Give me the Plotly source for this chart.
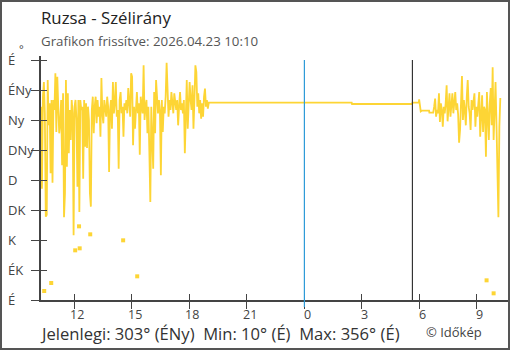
import pandas as pd
import plotly.graph_objects as go

# Wind direction (degrees), 3-minute samples from 2026-04-22 10:16
morning_start = "2026-04-22 10:16"
morning_dirs = [
    290, 167, 305, 327, 280, 125, 128, 330, 262, 295,
    190, 300, 176, 300, 285, 340, 252, 335, 290, 250,
    265, 300, 202, 310, 124, 160, 330, 200, 310, 220,
    285, 240, 300, 280, 97, 290, 300, 270, 170, 300,
    132, 300, 285, 290, 182, 300, 230, 295, 228, 290,
    270, 160, 140, 285, 305, 250, 290, 305, 265, 300,
    275, 290, 245, 333, 280, 265, 300, 290, 275, 305,
    290, 192, 285, 300, 257, 327, 280, 295, 327, 275,
    285, 197, 300, 312, 280, 290, 245, 295, 285, 300,
    280, 318, 290, 275, 340, 335, 232, 290, 257, 300,
    312, 280, 295, 218, 305, 290, 280, 352, 270, 290,
    300, 250, 290, 222, 147, 290, 227, 197, 312, 250,
    330, 290, 280, 300, 285, 187, 300, 252, 290, 280,
    305, 356, 290, 275, 300, 285, 312, 290, 280, 310,
    295, 285, 300, 262, 290, 312, 285, 295, 280, 300,
    220, 300, 330, 257, 290, 327, 300, 285, 322, 257,
    300, 352, 342, 290, 310, 280, 300, 272, 295, 275,
    305, 317, 290, 300, 287, 296,
]

# Calm overnight stretch: the vane barely moves
calm_times = [
    "2026-04-22 19:07", "2026-04-23 02:28", "2026-04-23 02:29",
    "2026-04-23 05:37", "2026-04-23 05:38", "2026-04-23 05:58",
    "2026-04-23 05:59", "2026-04-23 06:04", "2026-04-23 06:07",
    "2026-04-23 06:30", "2026-04-23 06:31", "2026-04-23 06:43",
]
calm_dirs = [296, 296, 294, 294, 296, 296, 301, 283, 284, 284, 281, 281]

# 3-minute samples from 2026-04-23 06:46
late_start = "2026-04-23 06:46"
late_dirs = [
    290, 302, 275, 285, 280, 310, 267, 295, 285, 260,
    290, 280, 295, 322, 268, 300, 310, 275, 290, 310,
    280, 300, 312, 285, 295, 278, 236, 255, 290, 336,
    270, 300, 285, 262, 305, 330, 290, 280, 255, 300,
    285, 295, 310, 260, 290, 275, 300, 312, 245, 290,
    307, 252, 290, 285, 215, 312, 270, 240, 295, 318,
    262, 349, 240, 290, 327, 262, 201, 124, 260, 303,
]

# Isolated readings (not joined to the line)
spot_times = [
    "2026-04-22 10:26", "2026-04-22 10:48", "2026-04-22 12:03",
    "2026-04-22 12:15", "2026-04-22 12:17", "2026-04-22 12:50",
    "2026-04-22 14:33", "2026-04-22 15:17", "2026-04-23 09:30",
    "2026-04-23 09:52",
]
spot_dirs = [13.5, 25.5, 74.5, 110.5, 77.5, 98.5, 89.5, 35.5, 29.5, 10]

compass_vals = [0, 45, 90, 135, 180, 225, 270, 315, 360]
compass_text = ["É", "ÉK", "K", "DK", "D", "DNy", "Ny", "ÉNy", "É"]

hour_ticks = [
    "2026-04-22 12:00", "2026-04-22 15:00", "2026-04-22 18:00",
    "2026-04-22 21:00", "2026-04-23 00:00", "2026-04-23 03:00",
    "2026-04-23 06:00", "2026-04-23 09:00",
]
hour_text = ["12", "15", "18", "21", "0", "3", "6", "9"]

midnight = "2026-04-23 00:00"
sunrise = "2026-04-23 05:38"
x_range = ["2026-04-22 10:16", "2026-04-23 10:37"]
y_range = [0, 366]

title = "Ruzsa - Szélirány"
subtitle = "Grafikon frissítve: 2026.04.23 10:10"

YELLOW = "#fdd535"
AXIS = "#444444"
FONT = "Open Sans"

t_morning = pd.date_range(morning_start, periods=len(morning_dirs), freq="3min")
t_calm = pd.to_datetime(calm_times)
t_late = pd.date_range(late_start, periods=len(late_dirs), freq="3min")
times = list(t_morning) + list(t_calm) + list(t_late)
dirs = morning_dirs + calm_dirs + late_dirs


def compass(deg):
    names = ["É", "ÉK", "K", "DK", "D", "DNy", "Ny", "ÉNy"]
    return names[int(((deg % 360) + 22.5) // 45) % 8]


all_dirs = dirs + spot_dirs
cur = dirs[-1]
lo = min(all_dirs)
hi = max(all_dirs)
stats = (f"Jelenlegi: {cur:g}° ({compass(cur)})  Min: {lo:g}° ({compass(lo)})  "
         f"Max: {hi:g}° ({compass(hi)})")

fig = go.Figure()
fig.add_trace(go.Scatter(
    x=times, y=dirs, mode="lines",
    line=dict(color=YELLOW, width=1.8), hoverinfo="skip", showlegend=False,
))
fig.add_trace(go.Scatter(
    x=pd.to_datetime(spot_times), y=spot_dirs, mode="markers",
    marker=dict(symbol="square", size=4, color=YELLOW, line=dict(width=0)),
    xaxis="x2", yaxis="y2", hoverinfo="skip", showlegend=False,
))

W, H = 510, 350
ML, MR, MT, MB = 41, 2, 56, 50
pw, ph = W - ML - MR, H - MT - MB


def px(xp):
    return (xp - ML) / pw


def py(yp):
    return (H - MB - yp) / ph


shapes = [
    dict(type="line", xref="x", yref="paper", x0=midnight, x1=midnight,
         y0=py(307), y1=py(60), line=dict(color="#2d9ad8", width=1.2)),
    dict(type="line", xref="x", yref="paper", x0=sunrise, x1=sunrise,
         y0=py(300), y1=py(60), line=dict(color="#333333", width=1.2)),
    dict(type="rect", xref="paper", yref="paper", x0=px(1), x1=px(509),
         y0=py(349), y1=py(1), line=dict(color="#555555", width=2),
         fillcolor="rgba(0,0,0,0)", layer="above"),
]

annotations = [
    dict(text=title, xref="paper", yref="paper", x=px(39), y=py(18),
         xanchor="left", yanchor="middle", showarrow=False,
         font=dict(family=FONT, size=16.8, color="#222222")),
    dict(text=subtitle, xref="paper", yref="paper", x=px(39), y=py(41),
         xanchor="left", yanchor="middle", showarrow=False,
         font=dict(family=FONT, size=13.3, color="#555555")),
    dict(text=stats, xref="paper", yref="paper", x=px(38), y=py(333),
         xanchor="left", yanchor="middle", showarrow=False,
         font=dict(family=FONT, size=16.6, color="#333333")),
    dict(text="© Időkép", xref="paper", yref="paper", x=px(424), y=py(332),
         xanchor="left", yanchor="middle", showarrow=False,
         font=dict(family=FONT, size=13, color="#444444")),
    dict(text="°", xref="paper", yref="paper", x=px(17), y=py(49),
         xanchor="left", yanchor="middle", showarrow=False,
         font=dict(family=FONT, size=11, color=AXIS)),
]
for v, t in zip(compass_vals, compass_text):
    annotations.append(dict(
        text=t, xref="paper", yref="y", x=px(6), y=v,
        xanchor="left", yanchor="middle", showarrow=False,
        font=dict(family=FONT, size=13, color=AXIS),
    ))
for v, t in zip(hour_ticks, hour_text):
    annotations.append(dict(
        text=t, xref="x", yref="paper", x=v, y=py(314), xshift=3,
        xanchor="center", yanchor="middle", showarrow=False,
        font=dict(family=FONT, size=12.5, color=AXIS),
    ))

fig.update_layout(
    width=W, height=H,
    margin=dict(l=ML, r=MR, t=MT, b=MB),
    paper_bgcolor="white", plot_bgcolor="white",
    font=dict(family=FONT, color=AXIS),
    xaxis=dict(
        range=x_range, type="date", showgrid=False, zeroline=False,
        showline=True, linecolor=AXIS, linewidth=1.5,
        ticks="outside", ticklen=7, tickwidth=1.2, tickcolor=AXIS,
        tickvals=hour_ticks, showticklabels=False,
    ),
    xaxis2=dict(
        range=x_range, type="date", overlaying="x", anchor="y2",
        showgrid=False, zeroline=False, showline=False,
        ticks="inside", ticklen=6, tickwidth=1.2, tickcolor=AXIS,
        tickvals=hour_ticks, showticklabels=False,
    ),
    yaxis=dict(
        range=y_range, showgrid=False, zeroline=False,
        showline=True, linecolor=AXIS, linewidth=1.5,
        ticks="outside", ticklen=8, tickwidth=1.2, tickcolor=AXIS,
        tickvals=compass_vals, showticklabels=False,
    ),
    yaxis2=dict(
        range=y_range, overlaying="y", anchor="x2", side="left",
        showgrid=False, zeroline=False, showline=False,
        ticks="inside", ticklen=6, tickwidth=1.2, tickcolor=AXIS,
        tickvals=compass_vals, showticklabels=False,
    ),
    shapes=shapes,
    annotations=annotations,
)

fig.write_html("out.html")
